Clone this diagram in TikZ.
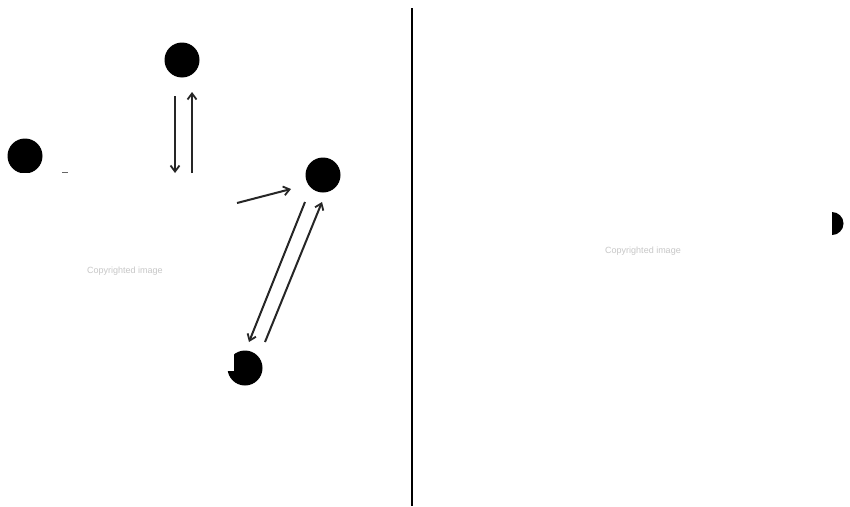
\documentclass[tikz,border=0pt]{standalone}
\usepackage{fontspec}
\setmainfont{Liberation Sans}
\usetikzlibrary{arrows.meta}
\begin{document}
\begin{tikzpicture}[x=1pt,y=-1pt,
  dot/.style={circle,fill=black,minimum size=35pt,inner sep=0pt},
  arr/.style={line width=2pt,-{Straight Barb[length=6pt,width=9pt,line width=1.8pt]},black!85},
  wm/.style={font=\fontsize{9}{10}\selectfont,text=black!22}]
\useasboundingbox (0,0) rectangle (850,506);
\fill[white] (0,0) rectangle (850,506);
% dots
\node[dot] (top) at (182,60) {};
\begin{scope}
\clip (0,130) rectangle (60,172);
\node[dot] (left) at (25,156) {};
\end{scope}
\node[dot] (right) at (323,175) {};
\node[dot] (bot) at (245,368) {};
\fill[white] (224,347) rectangle (234,371);
\fill[black] (832,235) arc[start angle=90,end angle=-90,radius=11.5] -- cycle;
\coordinate (dash1) at (62,172);
\coordinate (dash2) at (68,172);
\draw[black!60,line width=0.8pt] (dash1) -- (dash2);
% divider
\coordinate (vt) at (412,8);
\coordinate (vb) at (412,506);
\draw[line width=2.5pt] (vt) -- (vb);
% arrows
\coordinate (a1s) at (175,96);
\coordinate (a1e) at (175,173);
\coordinate (a2s) at (192,173);
\coordinate (a2e) at (192,92);
\coordinate (a3s) at (237,203);
\coordinate (a3e) at (291,189);
\coordinate (a4s) at (305,202);
\coordinate (a4e) at (249,342);
\coordinate (a5s) at (265,342);
\coordinate (a5e) at (322,202);
\draw[arr] (a1s) -- (a1e);
\draw[arr] (a2s) -- (a2e);
\draw[arr] (a3s) -- (a3e);
\draw[arr] (a4s) -- (a4e);
\draw[arr] (a5s) -- (a5e);
% watermarks
\node[wm] (w1) at (125,271) {Copyrighted image};
\node[wm] (w2) at (643,251) {Copyrighted image};
\end{tikzpicture}
\end{document}
